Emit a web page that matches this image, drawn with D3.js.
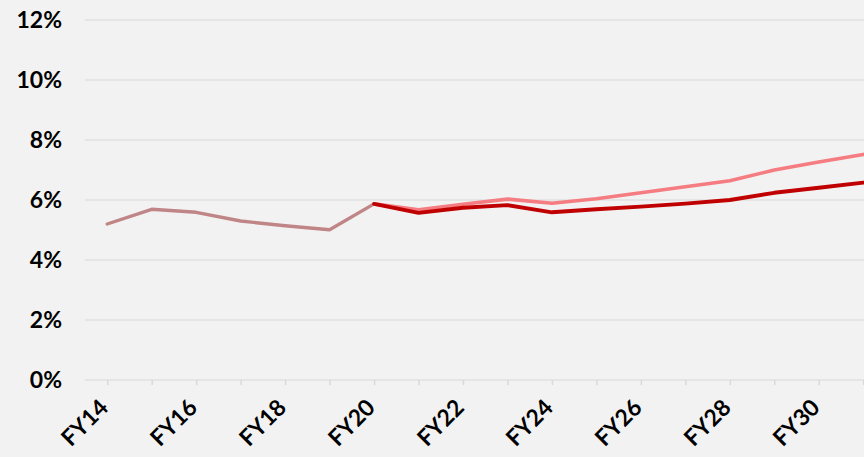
<!DOCTYPE html>
<html>
<head>
<meta charset="utf-8">
<script src="https://cdn.jsdelivr.net/npm/d3@7"></script>
<style>
  html, body { margin: 0; padding: 0; background: #f2f2f2; }
  svg { display: block; }
  .lbl { font-family: "Century Gothic", Lato, sans-serif; font-weight: 700; fill: #000; }
</style>
</head>
<body>
<div id="chart"></div>
<script>
const categories = ["FY14","FY15","FY16","FY17","FY18","FY19","FY20","FY21","FY22","FY23","FY24","FY25","FY26","FY27","FY28","FY29","FY30","FY31"];
const history = [5.20, 5.69, 5.59, 5.30, 5.14, 5.01, 5.87, null, null, null, null, null, null, null, null, null, null, null];
const forecastHigh = [null, null, null, null, null, null, 5.87, 5.67, 5.86, 6.03, 5.89, 6.04, 6.24, 6.44, 6.64, 7.00, 7.27, 7.52];
const forecastLow = [null, null, null, null, null, null, 5.87, 5.57, 5.74, 5.83, 5.59, 5.69, 5.78, 5.88, 6.00, 6.24, 6.41, 6.58];
const yTicks = [0, 2, 4, 6, 8, 10, 12];
const labelEvery = 2;

const width = 864, height = 457;
const margin = { top: 20, right: 0, bottom: 77, left: 85 };

const svg = d3.select("#chart")
    .append("svg")
    .attr("width", width)
    .attr("height", height);

svg.append("rect")
    .attr("width", width)
    .attr("height", height)
    .attr("fill", "#f2f2f2");

// plot area runs past the right edge, the last category is cut off like the source
const x = d3.scalePoint()
    .domain(categories)
    .range([margin.left, margin.left + 44.47 * categories.length])
    .padding(0.5);

const y = d3.scaleLinear()
    .domain([0, 12])
    .range([height - margin.bottom, margin.top]);

// gridlines
svg.append("g")
    .selectAll("line")
    .data(yTicks)
    .enter()
    .append("line")
    .attr("x1", margin.left)
    .attr("x2", width)
    .attr("y1", d => y(d))
    .attr("y2", d => y(d))
    .attr("stroke", "#e0e0e0")
    .attr("stroke-width", 1.5);

// y labels
svg.append("g")
    .selectAll("text")
    .data(yTicks)
    .enter()
    .append("text")
    .attr("class", "lbl")
    .attr("x", 62)
    .attr("y", d => y(d))
    .attr("dy", "0.36em")
    .attr("text-anchor", "end")
    .style("font-size", "23px")
    .text(d => d + "%");

// x axis ticks
const xAxis = d3.axisBottom(x)
    .tickSize(5)
    .tickFormat((d, i) => i % labelEvery === 0 ? d : "");

const gx = svg.append("g")
    .attr("transform", "translate(0," + y(0) + ")")
    .call(xAxis);

gx.select(".domain").remove();
gx.selectAll(".tick line")
    .attr("stroke", "#d9d9d9")
    .attr("stroke-width", 1.5);
gx.selectAll(".tick text")
    .attr("class", "lbl")
    .style("font-size", "23px")
    .attr("text-anchor", "end")
    .attr("y", 0)
    .attr("dy", 0)
    .attr("transform", "translate(2,29) rotate(-45)");

// lines
const line = d3.line()
    .defined(d => d.v != null)
    .x(d => x(d.c))
    .y(d => y(d.v));

const series = [
    { values: history, color: "#c08586", w: 3.4 },
    { values: forecastHigh, color: "#f57c80", w: 3.6 },
    { values: forecastLow, color: "#c00000", w: 3.9 }
];

svg.append("g")
    .selectAll("path")
    .data(series)
    .enter()
    .append("path")
    .attr("fill", "none")
    .attr("stroke", d => d.color)
    .attr("stroke-width", d => d.w)
    .attr("stroke-linejoin", "round")
    .attr("stroke-linecap", "round")
    .attr("d", d => line(categories.map((c, i) => ({ c: c, v: d.values[i] }))));
</script>
</body>
</html>
